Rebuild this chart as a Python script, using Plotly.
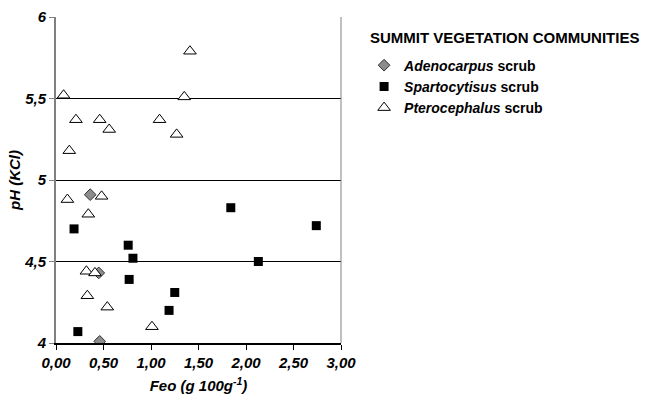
import plotly.graph_objects as go

# Data (Feo in g 100g-1, pH KCl)
adeno_x = [0.36, 0.45, 0.46]
adeno_y = [4.91, 4.43, 4.01]

sparto_x = [0.19, 0.76, 0.81, 0.77, 1.25, 1.19, 0.23, 1.84, 2.74, 2.13]
sparto_y = [4.70, 4.60, 4.52, 4.39, 4.31, 4.20, 4.07, 4.83, 4.72, 4.50]

ptero_x = [0.08, 0.21, 0.46, 0.56, 0.14, 1.41, 1.35, 1.09, 1.27,
           0.12, 0.48, 0.34, 0.32, 0.41, 0.33, 0.54, 1.01]
ptero_y = [5.52, 5.37, 5.37, 5.31, 5.18, 5.79, 5.51, 5.37, 5.28,
           4.88, 4.90, 4.79, 4.44, 4.43, 4.29, 4.22, 4.10]

legend_names = ["<b><i>Adenocarpus</i> scrub</b>", "<b><i>Spartocytisus</i> scrub</b>",
                "<b><i>Pterocephalus</i> scrub</b>"]
legend_title = "SUMMIT VEGETATION COMMUNITIES"
x_ticks = [0, 0.5, 1.0, 1.5, 2.0, 2.5, 3.0]
x_ticklabels = ["0,00", "0,50", "1,00", "1,50", "2,00", "2,50", "3,00"]
y_ticks = [4, 4.5, 5, 5.5, 6]
y_ticklabels = ["4", "4,5", "5", "5,5", "6"]

FONT = "Liberation Sans, Arial, sans-serif"

def bi(s):
    return "<b><i>" + s + "</i></b>"

fig = go.Figure()
fig.add_trace(go.Scatter(x=adeno_x, y=adeno_y, mode="markers", name=legend_names[0],
                         marker=dict(symbol="diamond", size=9, color="#8c8c8c",
                                     line=dict(color="#333333", width=1))))
fig.add_trace(go.Scatter(x=sparto_x, y=sparto_y, mode="markers", name=legend_names[1],
                         marker=dict(symbol="square", size=9, color="black",
                                     line=dict(color="black", width=0))))
fig.add_trace(go.Scatter(x=ptero_x, y=ptero_y, mode="markers", name=legend_names[2],
                         marker=dict(symbol="triangle-up", size=11, color="white",
                                     line=dict(color="black", width=1))))

fig.update_layout(
    width=649, height=405,
    margin=dict(l=56, r=308, t=17, b=62),
    paper_bgcolor="white", plot_bgcolor="white",
    font=dict(family=FONT, size=13, color="black"),
    showlegend=True,
    legend=dict(x=1.081, xanchor="left", y=0.90, yanchor="top",
                font=dict(family=FONT, size=14, color="black"),
                tracegroupgap=0, bgcolor="rgba(0,0,0,0)"),
    xaxis=dict(range=[0, 3], tickvals=x_ticks, ticktext=[bi(t) for t in x_ticklabels],
               showgrid=False, zeroline=False, automargin=False,
               showline=True, linecolor="black", linewidth=1.5,
               ticks="outside", ticklen=5, tickcolor="black",
               tickfont=dict(family=FONT, size=15, color="black"),
               title=dict(text=bi("Feo (g 100g<sup>-1</sup>)"), standoff=11,
                          font=dict(family=FONT, size=15, color="black"))),
    yaxis=dict(range=[4, 6], tickvals=y_ticks, ticktext=[bi(t) for t in y_ticklabels],
               showgrid=True, gridcolor="black", gridwidth=1, zeroline=False, automargin=False,
               showline=True, linecolor="#808080", linewidth=2,
               ticks="outside", ticklen=5, tickcolor="#808080",
               tickfont=dict(family=FONT, size=15, color="black"),
               title=dict(text=bi("pH (KCl)"), standoff=0,
                          font=dict(family=FONT, size=15, color="black"))),
)

# right border of plot area
fig.add_shape(type="line", xref="paper", yref="paper", x0=1, x1=1, y0=0, y1=1,
              line=dict(color="#808080", width=1))

fig.add_annotation(text="<b>" + legend_title + "</b>", xref="paper", yref="paper",
                   x=1.095, y=0.938, xanchor="left", yanchor="middle", showarrow=False,
                   font=dict(family=FONT, size=15, color="black"))

fig.write_html("out.html", config={"displayModeBar": False},
               post_script="document.body.style.margin='0';document.body.style.padding='0';")
